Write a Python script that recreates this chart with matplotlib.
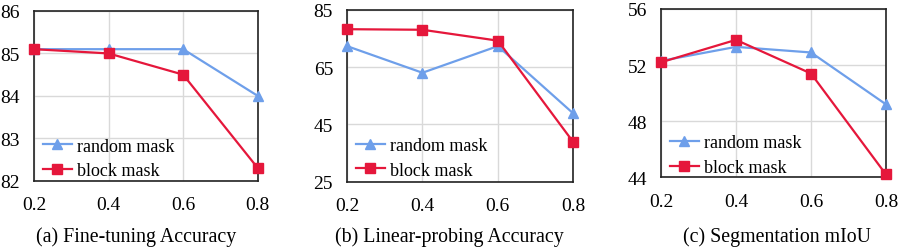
import matplotlib
matplotlib.use("Agg")
import matplotlib.pyplot as plt

x = [0.2, 0.4, 0.6, 0.8]
x_ticks = ["0.2", "0.4", "0.6", "0.8"]

ft_random = [85.1, 85.1, 85.1, 84.0]
ft_block = [85.1, 85.0, 84.5, 82.3]

lp_random = [72.3, 63.0, 72.3, 48.8]
lp_block = [78.2, 78.0, 74.2, 38.8]

seg_random = [52.3, 53.3, 52.9, 49.2]
seg_block = [52.2, 53.8, 51.4, 44.2]

ft_yticks = [82, 83, 84, 85, 86]
lp_yticks = [25, 45, 65, 85]
seg_yticks = [44, 48, 52, 56]

captions = ["(a) Fine-tuning Accuracy", "(b) Linear-probing Accuracy", "(c) Segmentation mIoU"]
legend_labels = ["random mask", "block mask"]

plt.rcParams['font.family'] = ['Liberation Serif', 'DejaVu Serif']

BLUE = '#6E9FEA'
RED = '#E5173B'

fig = plt.figure(figsize=(9.0, 2.51), dpi=100)

W, H = 900.0, 251.0
boxes = [(34, 12, 257.7, 181.7), (347, 10.7, 573.3, 182.7), (661, 10, 886, 178.3)]
datasets = [(ft_random, ft_block, ft_yticks),
            (lp_random, lp_block, lp_yticks),
            (seg_random, seg_block, seg_yticks)]
cap_x = [136, 449, 777]
leg_y = [-0.045, -0.035, -0.045]

for (l, t, r, b), (rnd, blk, yt), cap, cx, ly in zip(boxes, datasets, captions, cap_x, leg_y):
    ax = fig.add_axes([l / W, 1 - b / H, (r - l) / W, (b - t) / H])
    ax.plot(x, rnd, color=BLUE, lw=1.6, marker='^', ms=7, clip_on=False, zorder=3, label=legend_labels[0])
    ax.plot(x, blk, color=RED, lw=1.6, marker='s', ms=6.5, clip_on=False, zorder=4, label=legend_labels[1])
    ax.set_xlim(0.2, 0.8)
    ax.set_ylim(yt[0], yt[-1])
    ax.set_xticks(x)
    ax.set_xticklabels(x_ticks)
    ax.set_yticks(yt)
    ax.grid(True, color='#d9d9d9', lw=1.0)
    ax.set_axisbelow(True)
    ax.tick_params(length=0, labelsize=14, colors='black')
    ax.tick_params(axis='y', pad=10)
    ax.tick_params(axis='x', pad=11)
    for s in ax.spines.values():
        s.set_color('#222222')
        s.set_linewidth(1.2)
    ax.legend(loc='lower left', bbox_to_anchor=(0.0, ly), frameon=False, fontsize=13,
              handlelength=1.6, handletextpad=0.3, labelspacing=0.42, borderaxespad=0.3,
              borderpad=0.2)
    fig.text(cx / W, 1 - 237 / H, cap, ha='center', va='center', fontsize=14.3)

fig.savefig('out.png', dpi=100)
